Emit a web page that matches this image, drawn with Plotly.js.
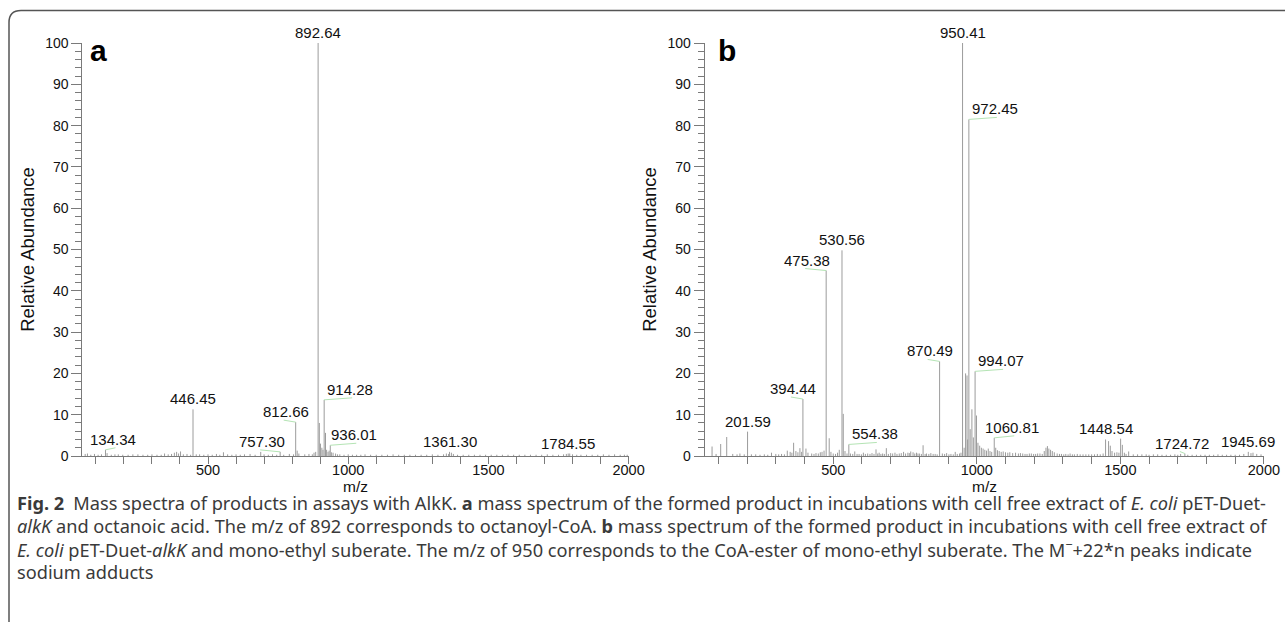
<!DOCTYPE html>
<html>
<head>
<meta charset="utf-8">
<script src="https://cdn.plot.ly/plotly-3.0.1.min.js"></script>
<style>html,body{margin:0;padding:0;background:#fff;}#chart{width:1285px;height:622px;}</style>
</head>
<body>
<div id="chart"></div>
<script>
// ---------- Panel a: labelled peaks ----------
const labA_mz = [134.34, 446.45, 757.30, 812.66, 892.64, 914.28, 936.01, 1361.30, 1784.55];
const labA_h  = [1.5, 11.3, 1.0, 8.2, 100, 13.6, 2.6, 1.0, 0.6];
const labA_text = ["134.34", "446.45", "757.30", "812.66", "892.64", "914.28", "936.01", "1361.30", "1784.55"];
// ---------- Panel a: other peaks ----------
const othA_mz = [62,70,82,95,108,120,140,155,168,180,196,215,232,250,268,285,300,318,333,345,358,370,380,388,395,402,412,425,438,458,470,485,500,515,530,542,555,570,585,600,615,630,650,668,688,700,715,730,745,770,790,805,818,824,845,860,872,878,884,897,901,906,910,919,923,928,932,940,946,955,962,970,985,1000,1015,1030,1045,1060,1080,1100,1120,1140,1160,1180,1200,1220,1240,1260,1280,1300,1320,1340,1350,1358,1368,1375,1390,1410,1430,1450,1470,1490,1510,1530,1550,1570,1590,1610,1630,1650,1670,1690,1710,1730,1750,1768,1778,1790,1800,1815,1830,1850,1870,1890,1910,1930,1950,1970,1985,1995];
const othA_h  = [0.5,0.6,0.3,0.5,0.3,0.4,0.7,0.3,0.4,0.4,0.3,0.3,0.4,0.4,0.3,0.3,0.4,0.3,0.3,0.6,0.4,0.5,0.8,1.0,0.6,1.1,0.4,0.5,0.3,0.4,0.4,0.3,0.4,0.3,0.5,0.3,0.9,0.4,0.3,0.4,0.3,0.4,0.5,0.3,1.0,0.4,0.3,0.4,0.3,0.3,0.5,0.4,1.3,0.6,0.4,0.5,0.4,0.8,1.0,8.0,3.0,2.0,1.5,5.6,1.5,1.0,1.3,0.9,0.8,0.6,0.4,0.4,0.3,0.4,0.3,0.3,0.3,0.4,0.3,0.3,0.3,0.3,0.4,0.3,0.3,0.3,0.3,0.3,0.3,0.4,0.3,0.4,0.6,0.5,0.8,0.5,0.3,0.3,0.3,0.3,0.3,0.3,0.3,0.3,0.3,0.3,0.3,0.3,0.3,0.3,0.3,0.3,0.4,0.3,0.3,0.4,0.5,0.6,0.4,0.3,0.3,0.3,0.3,0.3,0.4,0.3,0.4,0.3,0.3,0.3];

// ---------- Panel b: labelled peaks ----------
const labB_mz = [201.59, 394.44, 475.38, 530.56, 554.38, 870.49, 950.41, 972.45, 994.07, 1060.81, 1448.54, 1724.72, 1945.69];
const labB_h  = [5.9, 13.8, 44.9, 49.8, 2.8, 22.9, 100, 81.5, 20.5, 4.4, 4.0, 0.6, 1.0];
const labB_text = ["201.59", "394.44", "475.38", "530.56", "554.38", "870.49", "950.41", "972.45", "994.07", "1060.81", "1448.54", "1724.72", "1945.69"];
// ---------- Panel b: other peaks ----------
const othB_mz = [78,92,108,129,150,165,175,190,215,230,245,260,272,285,300,310,320,330,340,350,356,362,370,377,384,390,405,412,425,433,440,448,455,461,468,486,492,500,508,515,521,535,541,548,560,568,575,583,590,598,605,612,620,628,635,642,649,655,660,666,672,678,685,692,700,707,715,722,730,737,745,752,760,765,770,778,784,790,795,800,807,813,820,825,833,840,848,855,862,880,888,895,903,910,918,925,932,940,945,956,961,966,968,977,983,988,999,1004,1010,1016,1022,1028,1034,1040,1046,1052,1066,1072,1078,1085,1092,1100,1108,1115,1125,1135,1145,1152,1160,1168,1175,1183,1190,1198,1205,1212,1220,1228,1235,1241,1246,1251,1257,1263,1270,1280,1288,1295,1303,1310,1318,1325,1333,1340,1350,1360,1370,1380,1390,1400,1410,1420,1430,1440,1459,1465,1471,1480,1488,1495,1501,1507,1514,1520,1529,1545,1560,1575,1590,1600,1615,1630,1645,1660,1675,1690,1700,1710,1735,1750,1765,1780,1795,1810,1825,1840,1855,1870,1885,1900,1915,1930,1955,1962,1975,1990];
const othB_h  = [2.3,0.5,2.9,4.6,0.5,0.4,0.6,0.4,0.4,0.4,0.3,0.4,0.3,0.8,0.5,0.4,0.5,0.4,1.3,1.0,0.8,3.2,1.2,0.9,1.9,1.0,1.8,0.8,0.6,0.5,0.7,0.6,0.9,1.0,1.3,4.3,1.0,0.6,0.5,0.8,1.5,10.2,1.2,0.6,0.6,0.5,1.1,0.5,0.5,0.4,0.8,0.5,0.6,0.5,0.7,0.5,1.6,0.6,0.8,0.5,0.6,0.5,1.9,0.5,0.7,0.6,0.8,0.5,0.6,0.7,1.0,0.6,0.8,0.7,1.1,0.9,0.6,0.8,0.6,0.6,0.5,2.6,0.5,0.6,0.5,0.7,0.5,0.5,0.4,0.6,0.5,0.7,0.4,0.5,0.4,1.0,0.5,0.6,0.8,2.0,20.0,19.5,4.0,6.5,11.3,4.5,9.8,3.2,2.5,2.0,1.8,1.5,1.3,1.8,1.2,1.0,2.0,1.4,1.2,1.0,1.1,0.9,0.8,0.9,0.7,0.8,0.6,0.7,0.6,0.5,0.5,0.6,0.6,0.5,0.5,0.6,0.6,0.5,1.2,2.0,2.4,1.8,1.5,1.2,0.9,0.6,0.5,0.5,0.4,0.5,0.4,0.6,0.4,0.4,0.5,0.4,0.4,0.4,0.4,0.4,0.4,0.5,0.4,0.6,3.6,2.5,1.2,0.8,0.9,0.8,4.2,2.7,0.8,0.5,1.1,0.4,0.4,0.4,0.4,0.3,0.4,0.4,0.3,0.3,0.3,0.4,0.3,0.5,0.3,0.3,0.3,0.3,0.3,0.3,0.3,0.4,0.3,0.3,0.3,0.3,0.3,0.5,0.7,0.8,0.5,0.4];

// ---------- label placement (style) ----------
const labA_dx = [8, 0, -18, -10, 0, 26, 24, 0, 0];
const labB_dx = [0, -10, -19, 0, 26, -10, 0, 26, 26, 18, 0, -3, 0];

const caption = [
  "<b>Fig. 2</b>\u2002Mass spectra of products in assays with AlkK. <b>a</b> mass spectrum of the formed product in incubations with cell free extract of <i>E. coli</i> pET-Duet-",
  "<i>alkK</i> and octanoic acid. The m/z of 892 corresponds to octanoyl-CoA. <b>b</b> mass spectrum of the formed product in incubations with cell free extract of",
  "<i>E. coli</i> pET-Duet-<i>alkK</i> and mono-ethyl suberate. The m/z of 950 corresponds to the CoA-ester of mono-ethyl suberate. The M<sup>\u2212</sup>+22*n peaks indicate",
  "sodium adducts"
];

const W = 1285, H = 622;
const PEAK = '#9c9c9c', GREEN = '#b4e4b4', AX = '#7a7a7a';
const FONT = 'Liberation Sans, Arial, sans-serif';

function stems(mzA, hA, xa, ya) {
  const x = [], y = [];
  mzA.forEach((m, i) => { x.push(m, m, null); y.push(0, hA[i], null); });
  return {x, y, xaxis: xa, yaxis: ya, type: 'scatter', mode: 'lines',
          line: {color: PEAK, width: 1}, hoverinfo: 'skip', showlegend: false, cliponaxis: false};
}

const traces = [
  stems(othA_mz, othA_h, 'x', 'y'),
  stems(labA_mz, labA_h, 'x', 'y'),
  stems(othB_mz, othB_h, 'x2', 'y2'),
  stems(labB_mz, labB_h, 'x2', 'y2')
];

const annotations = [];
const shapes = [];
function addLabels(mz, h, txt, dx, xr, yr) {
  mz.forEach((m, i) => {
    annotations.push({x: m, y: h[i], xref: xr, yref: yr, text: txt[i], showarrow: false,
      xanchor: 'center', yanchor: 'bottom', xshift: dx[i], yshift: 0,
      font: {family: FONT, size: 15, color: '#111'}});
    if (dx[i] !== 0) {
      shapes.push({type: 'line', xref: xr, yref: yr, xsizemode: 'pixel', ysizemode: 'pixel',
        xanchor: m, yanchor: h[i], x0: 0, y0: 0, x1: dx[i] + (dx[i] > 0 ? 2 : -2), y1: 2,
        line: {color: GREEN, width: 1}});
    }
  });
}
addLabels(labA_mz, labA_h, labA_text, labA_dx, 'x', 'y');
addLabels(labB_mz, labB_h, labB_text, labB_dx, 'x2', 'y2');

// panel letters
annotations.push({xref: 'paper', yref: 'paper', x: 88 / W, y: 1 - 32 / H, xanchor: 'left', yanchor: 'top',
  text: '<b>a</b>', showarrow: false, font: {family: FONT, size: 30, color: '#000'}});
annotations.push({xref: 'paper', yref: 'paper', x: 716 / W, y: 1 - 32 / H, xanchor: 'left', yanchor: 'top',
  text: '<b>b</b>', showarrow: false, font: {family: FONT, size: 30, color: '#000'}});

// x-axis titles
const xDomA = [82.4 / W, 628.6 / W], xDomB = [704.6 / W, 1263.9 / W];
[xDomA, xDomB].forEach(d => {
  annotations.push({xref: 'paper', yref: 'paper', x: (d[0] + d[1]) / 2, y: 1 - 486 / H, xanchor: 'center', yanchor: 'middle',
    text: 'm/z', showarrow: false, font: {family: FONT, size: 15.5, color: '#111'}});
});

// caption
const capY = [502.5, 525.5, 548.5, 571.5];
caption.forEach((t, i) => {
  annotations.push({xref: 'paper', yref: 'paper', x: 15 / W, y: 1 - capY[i] / H, xanchor: 'left', yanchor: 'middle',
    text: t, showarrow: false, align: 'left', font: {family: 'Noto Sans, Open Sans, sans-serif', size: 18.2, color: '#3a3a3a'}});
});

// figure border with rounded top-left corner
const bx = 9 / W, by = 1 - 10.5 / H, rx = 12 / W, ry = 12 / H;
shapes.push({type: 'path', xref: 'paper', yref: 'paper',
  path: `M ${bx} 0 L ${bx} ${by - ry} Q ${bx} ${by} ${bx + rx} ${by} L 1 ${by}`,
  line: {color: '#555', width: 1.5}});

function xaxisDef(domain, anchor) {
  return {domain, anchor, range: [52, 2000], tick0: 0, dtick: 500, ticks: 'outside', ticklen: 7,
    tickcolor: AX, tickwidth: 1, showline: true, linecolor: AX, linewidth: 1, showgrid: false, zeroline: false,
    ticklabelstandoff: -6,
    tickfont: {family: FONT, size: 14.5, color: '#111'},
    minor: {dtick: 100, tick0: 0, ticks: 'outside', ticklen: 7, tickcolor: AX, tickwidth: 1, showgrid: false}};
}
function yaxisDef(domain, anchor) {
  return {domain, anchor, range: [0, 100], tick0: 0, dtick: 10, ticks: 'outside', ticklen: 10,
    tickcolor: AX, tickwidth: 1, showline: true, linecolor: AX, linewidth: 1, showgrid: false, zeroline: false,
    tickfont: {family: FONT, size: 14, color: '#111'},
    minor: {dtick: 2, tick0: 0, ticks: 'outside', ticklen: 6, tickcolor: AX, tickwidth: 1, showgrid: false},
    title: {text: 'Relative Abundance', font: {family: FONT, size: 18.5, color: '#111'}, standoff: 5}};
}

const yDom = [1 - 456 / H, 1 - 43 / H];
const layout = {
  width: W, height: H, margin: {l: 0, r: 0, t: 0, b: 0},
  paper_bgcolor: '#fff', plot_bgcolor: '#fff', showlegend: false,
  xaxis: xaxisDef(xDomA, 'y'),
  yaxis: yaxisDef(yDom, 'x'),
  xaxis2: xaxisDef(xDomB, 'y2'),
  yaxis2: yaxisDef(yDom, 'x2'),
  annotations, shapes
};

Plotly.newPlot('chart', traces, layout, {displayModeBar: false, staticPlot: true});
</script>
</body>
</html>
